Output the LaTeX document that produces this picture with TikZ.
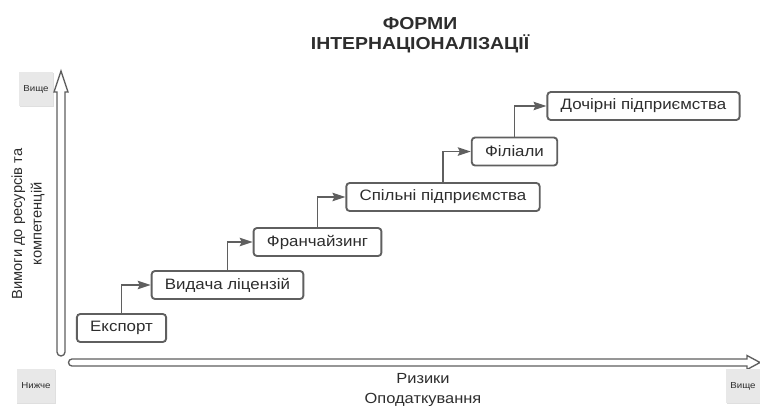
\documentclass[tikz,border=0pt]{standalone}
\usepackage{fontspec}
\setmainfont[FakeStretch=1.12]{Liberation Sans}
\newfontfamily\uprightfont{Liberation Sans}
\usepackage{tikz}
\usetikzlibrary{positioning,arrows.meta,shadows}
\usepackage{xcolor}
\definecolor{BoxGray}{RGB}{95,95,95}
\definecolor{TextGray}{RGB}{45,45,45}
\definecolor{TagGray}{RGB}{232,232,232}

\begin{document}
\begin{tikzpicture}[x=0.75pt, y=-0.75pt,
    stepbox/.style={rectangle, draw=BoxGray, line width=1.4pt, rounded corners=2.5pt, fill=white,
                    minimum height=21pt, inner xsep=10pt, text=TextGray,
                    font=\fontsize{11.3}{13}\selectfont},
    arrow/.style={-{Stealth[length=3.4mm, width=2.2mm, inset=0.5mm]}, draw=BoxGray, line width=1.4pt},
    axis/.style={draw=BoxGray, line width=1pt, fill=white},
    tag/.style={rectangle, fill=TagGray, minimum width=25pt, minimum height=25pt, text=TextGray,
                font=\fontsize{6.5}{7.5}\selectfont,
                drop shadow={shadow xshift=0.4pt, shadow yshift=-0.8pt, opacity=0.25}}
]
    \useasboundingbox (0,0) rectangle (760,405);

    \node[font=\bfseries\fontsize{13}{15}\selectfont, text=TextGray, align=center] (title) at (420,35) {ФОРМИ\\ІНТЕРНАЦІОНАЛІЗАЦІЇ};

    % axes
    \draw[axis] (57,92) -- (57,352) arc[start angle=180, end angle=0, radius=4] -- (65,92) -- (68,92) -- (61,71) -- (54,92) -- cycle;
    \draw[axis] (747,359) -- (72,359) arc[start angle=270, end angle=90, radius=3.5] -- (747,366) -- (747,369.5) -- (760,362.5) -- (747,355.5) -- cycle;

    \node[tag] (yhigh) at (36,89) {Вище};
    \node[tag] (xlow) at (36,386) {Нижче};
    \node[tag] (xhigh) at (743,386) {Вище};

    \node[rotate=90, align=center, text=TextGray, font=\uprightfont\fontsize{11}{14.5}\selectfont] (needs) at (28,224) {Вимоги до ресурсів та\\компетенцій};
    \node[align=center, text=TextGray, font=\fontsize{11}{14.5}\selectfont] (risks) at (423,390) {Ризики\\Оподаткування};

    % steps
    \node[stepbox] (export) at (121.5,328) {Експорт};
    \node[stepbox] (licence) at (227.5,285) {Видача ліцензій};
    \node[stepbox] (franchise) at (317.5,242) {Франчайзинг};
    \node[stepbox] (joint) at (443,197) {Спільні підприємства};
    \node[stepbox] (branch) at (514.5,151.5) {Філіали};
    \node[stepbox] (subsid) at (643.5,106) {Дочірні підприємства};

    \draw[arrow] (export.north) |- (licence.west);
    \draw[arrow] (licence.north) |- (franchise.west);
    \draw[arrow] (franchise.north) |- (joint.west);
    \draw[arrow] (joint.north) |- (branch.west);
    \draw[arrow] (branch.north) |- (subsid.west);
\end{tikzpicture}
\end{document}
